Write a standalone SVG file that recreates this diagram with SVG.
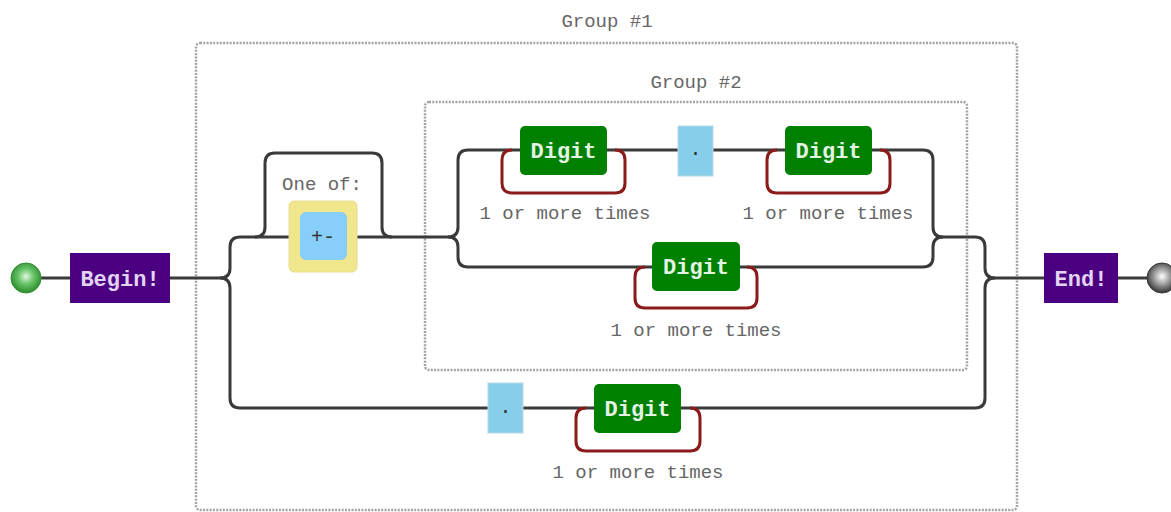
<svg xmlns="http://www.w3.org/2000/svg" width="1171" height="512" viewBox="0 0 1171 512">
<defs>
<radialGradient id="gStart" cx="50%" cy="45%" r="55%">
<stop offset="0" stop-color="#e2f8e2"/>
<stop offset="0.45" stop-color="#6cc66c"/>
<stop offset="1" stop-color="#2a8a2a"/>
</radialGradient>
<radialGradient id="gEnd" cx="50%" cy="45%" r="55%">
<stop offset="0" stop-color="#ffffff"/>
<stop offset="0.5" stop-color="#9a9a9a"/>
<stop offset="1" stop-color="#333333"/>
</radialGradient>
<style>
.conn{fill:none;stroke:#3a3a3a;stroke-width:3}
.loop{fill:none;stroke:#8b1a1a;stroke-width:3}
.group{fill:none;stroke:#a3a3a3;stroke-width:2.5;stroke-dasharray:2,1.3}
.lbl{font-family:"Liberation Mono","DejaVu Sans Mono",monospace;font-size:19px;fill:#666;text-anchor:middle}
.digit{fill:#008000}
.digitTxt{font-family:"Liberation Mono","DejaVu Sans Mono",monospace;font-size:22px;font-weight:bold;fill:#e4f4e4;text-anchor:middle}
.term{fill:#4b0082}
.termTxt{font-family:"Liberation Mono","DejaVu Sans Mono",monospace;font-size:22px;font-weight:bold;fill:#e2d4f2;text-anchor:middle}
.lit{fill:#87ceeb;stroke:#b5d9e8;stroke-width:1}
.litTxt{font-family:"Liberation Mono","DejaVu Sans Mono",monospace;font-size:20px;fill:#333;text-anchor:middle}
</style>
</defs>
<rect width="1171" height="512" fill="#ffffff"/>

<g id="group1">
<rect class="group" x="196" y="43" width="821" height="467" rx="4"/>
<text class="lbl" x="607" y="27">Group #1</text>
</g>
<g id="group2">
<rect class="group" x="425" y="102" width="542" height="268" rx="4"/>
<text class="lbl" x="696" y="88">Group #2</text>
</g>

<g id="connectors">
<path class="conn" d="M41,278 H70"/>
<path class="conn" d="M170,278 H220 q10,0 10,-10 V247 q0,-10 10,-10 H289"/>
<path class="conn" d="M255,237 q10,0 10,-10 V163 q0,-10 10,-10 H372 q10,0 10,10 V227 q0,10 10,10"/>
<path class="conn" d="M357,237 H448 q10,0 10,-10 V160 q0,-10 10,-10 H520"/>
<path class="conn" d="M448,237 q10,0 10,10 V257 q0,10 10,10 H652"/>
<path class="conn" d="M607,150 H678"/>
<path class="conn" d="M713,150 H785"/>
<path class="conn" d="M872,150 H923 q10,0 10,10 V227 q0,10 10,10 H975"/>
<path class="conn" d="M740,267 H923 q10,0 10,-10 V247 q0,-10 10,-10"/>
<path class="conn" d="M975,237 q10,0 10,10 V268 q0,10 10,10 H1044"/>
<path class="conn" d="M220,278 q10,0 10,10 V398 q0,10 10,10 H488"/>
<path class="conn" d="M523,408 H594"/>
<path class="conn" d="M681,408 H975 q10,0 10,-10 V288 q0,-10 10,-10"/>
<path class="conn" d="M1118,278 H1147"/>
<path class="loop" d="M512,150 q-10,0 -10,10 V183 q0,10 10,10 H615 q10,0 10,-10 V160 q0,-10 -10,-10"/>
<path class="loop" d="M777,150 q-10,0 -10,10 V183 q0,10 10,10 H880 q10,0 10,-10 V160 q0,-10 -10,-10"/>
<path class="loop" d="M645,267 q-10,0 -10,10 V298 q0,10 10,10 H747 q10,0 10,-10 V277 q0,-10 -10,-10"/>
<path class="loop" d="M586,408 q-10,0 -10,10 V441 q0,10 10,10 H690 q10,0 10,-10 V418 q0,-10 -10,-10"/>
</g>

<g id="start">
<circle cx="26" cy="278" r="15" fill="url(#gStart)" stroke="#2f8f2f" stroke-width="1"/>
</g>
<g id="begin">
<rect class="term" x="70" y="253" width="100" height="50"/>
<text class="termTxt" x="120" y="286">Begin!</text>
</g>
<g id="oneof">
<text class="lbl" x="322" y="190">One of:</text>
<rect x="289" y="201" width="68" height="71" rx="5" fill="#f0e68c" stroke="#e6dc90" stroke-width="1"/>
<rect x="300" y="212" width="47" height="48" rx="6" fill="#87cefa"/>
<text class="litTxt" x="323" y="243">+-</text>
</g>
<g id="digit1">
<rect class="digit" x="520" y="126" width="87" height="49" rx="5"/>
<text class="digitTxt" x="563.5" y="158">Digit</text>
<text class="lbl" x="565" y="219">1 or more times</text>
</g>
<g id="dot1">
<rect class="lit" x="678" y="126" width="35" height="50"/>
<text class="litTxt" x="695.5" y="155">.</text>
</g>
<g id="digit2">
<rect class="digit" x="785" y="126" width="87" height="49" rx="5"/>
<text class="digitTxt" x="828.5" y="158">Digit</text>
<text class="lbl" x="828" y="219">1 or more times</text>
</g>
<g id="digit3">
<rect class="digit" x="652" y="242" width="88" height="49" rx="5"/>
<text class="digitTxt" x="696" y="274">Digit</text>
<text class="lbl" x="696" y="336">1 or more times</text>
</g>
<g id="dot2">
<rect class="lit" x="488" y="383" width="35" height="50"/>
<text class="litTxt" x="505.5" y="413">.</text>
</g>
<g id="digit4">
<rect class="digit" x="594" y="384" width="87" height="49" rx="5"/>
<text class="digitTxt" x="637.5" y="416">Digit</text>
<text class="lbl" x="638" y="478">1 or more times</text>
</g>
<g id="endnode">
<rect class="term" x="1044" y="253" width="74" height="50"/>
<text class="termTxt" x="1081" y="286">End!</text>
</g>
<g id="finish">
<circle cx="1162" cy="278" r="15" fill="url(#gEnd)" stroke="#333" stroke-width="1"/>
</g>
</svg>
